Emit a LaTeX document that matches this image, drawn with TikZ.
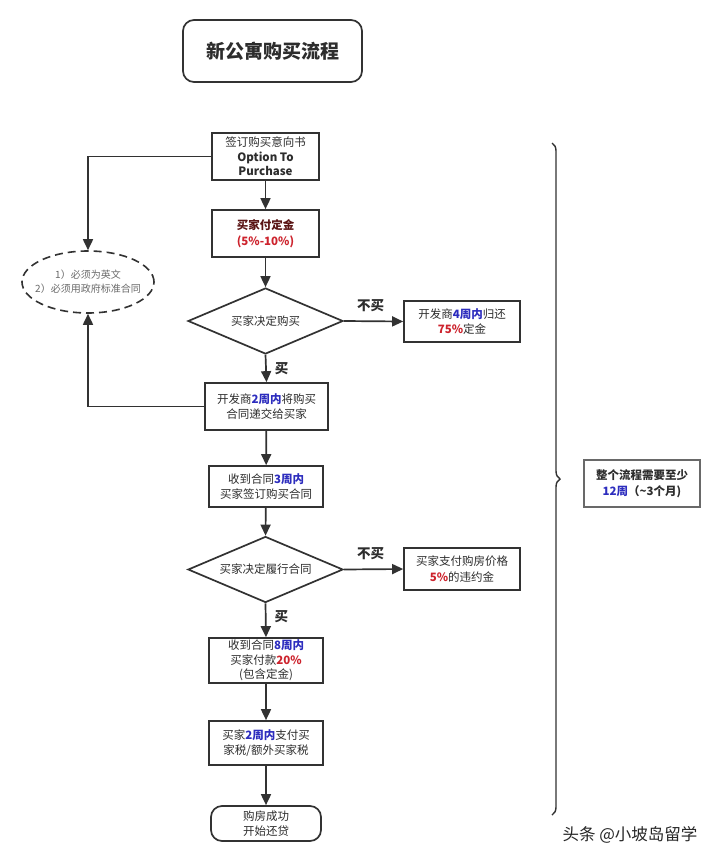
\documentclass[tikz,border=0pt]{standalone}
\usepackage{fontspec}
\setmainfont{Noto Sans CJK SC}
\usetikzlibrary{arrows.meta,shapes.geometric,decorations.pathreplacing}
\definecolor{ln}{RGB}{50,50,50}
\definecolor{tx}{RGB}{45,45,45}
\definecolor{bl}{RGB}{45,45,190}
\definecolor{rd}{RGB}{205,35,45}
\definecolor{gy}{RGB}{105,105,105}
\definecolor{dr}{RGB}{90,20,20}
\tikzset{
  box/.style={draw=ln,line width=1.7pt,rectangle,inner sep=0pt,align=center,text=tx,font=\fontsize{11.5}{15.5}\selectfont},
  dia/.style={draw=ln,line width=1.7pt,diamond,aspect=2.35,inner sep=0pt,minimum width=155pt,minimum height=66pt,align=center,text=tx,font=\fontsize{11.5}{15.5}\selectfont},
  conn/.style={draw=ln,line width=1.7pt,-{Triangle[length=11pt,width=10pt]}},
  lab/.style={text=tx,font=\fontsize{13.5}{15}\selectfont\bfseries,inner sep=0pt}
}
\newcommand{\bb}[1]{\textbf{\textcolor{bl}{#1}}}
\newcommand{\rr}[1]{\textbf{\textcolor{rd}{#1}}}
\begin{document}
\begin{tikzpicture}[x=1pt,y=-1pt]
\useasboundingbox[fill=white] (0,0) rectangle (720,861);
% title
\node[draw=ln,line width=1.7pt,rounded corners=11pt,minimum width=179pt,minimum height=62pt,inner sep=0pt,text=tx,font=\fontsize{19}{21}\selectfont\bfseries] (title) at (272.5,51) {新公寓购买流程};
% boxes
\node[box,minimum width=107pt,minimum height=47pt,font=\fontsize{11.5}{14.5}\selectfont] (b1) at (265.5,156.5) {签订购买意向书\\\textbf{Option To}\\\textbf{Purchase}};
\node[box,minimum width=107pt,minimum height=47pt] (b2) at (265.5,233.5) {\textbf{\textcolor{dr}{买家付定金}}\\\rr{(5\%-10\%)}};
\node[dia] (d1) at (265.5,321) {买家决定购买};
\node[box,minimum width=116pt,minimum height=41pt] (b3) at (462,321.5) {开发商\bb{4周内}归还\\\rr{75\%}定金};
\node[box,minimum width=123pt,minimum height=47pt] (b4) at (266.5,406.5) {开发商\bb{2周内}将购买\\合同递交给买家};
\node[draw=ln,line width=1.6pt,dashed,dash pattern=on 8pt off 5pt,ellipse,minimum width=132pt,minimum height=62pt,inner xsep=-20pt,inner ysep=-8pt,align=center,text=gy,font=\fontsize{10}{14}\selectfont] (ell) at (88,282) {1）必须为英文\\2）必须用政府标准合同};
\node[box,minimum width=114pt,minimum height=41pt] (b5) at (266,486.5) {收到合同\bb{3周内}\\买家签订购买合同};
\node[dia] (d2) at (265.5,569.5) {买家决定履行合同};
\node[box,minimum width=116pt,minimum height=42pt] (b6) at (462,569) {买家支付购房价格\\\rr{5\%}的违约金};
\node[box,minimum width=114pt,minimum height=45pt,font=\fontsize{11.5}{14.5}\selectfont] (b7) at (266,660.5) {收到合同\bb{8周内}\\买家付款\rr{20\%}\\(包含定金)};
\node[box,minimum width=114pt,minimum height=44pt] (b8) at (266,743) {买家\bb{2周内}支付买\\家税/额外买家税};
\node[box,rounded corners=11pt,minimum width=110pt,minimum height=35pt] (b9) at (266,823.5) {购房成功\\开始还贷};
\node[draw=gy,line width=1.3pt,rectangle,inner sep=0pt,minimum width=116pt,minimum height=47pt,align=center,text=tx,font=\fontsize{11.5}{15.5}\selectfont\bfseries] (b10) at (642,483.5) {整个流程需要至少\\\textcolor{bl}{12周}（\textasciitilde3个月)};
% connectors
\draw[conn] (b1) -- (b2);
\draw[conn] (b2) -- (d1);
\draw[conn] (d1.east) -- node[lab,above=9pt,pos=0.45] (l1) {不买} (b3.west);
\draw[conn] (d1.south) -- node[lab,right=8pt,pos=0.5] (l2) {买} (b4.north);
\draw[conn] (b4) -- (b5);
\draw[conn] (b5) -- (d2.north);
\draw[conn] (d2.east) -- node[lab,above=9pt,pos=0.45] (l3) {不买} (b6.west);
\draw[conn] (d2.south) -- node[lab,right=8pt,pos=0.4] (l4) {买} (b7.north);
\draw[conn] (b7) -- (b8);
\draw[conn] (b8) -- (b9);
\draw[conn] (b1.west) -| (ell.north);
\draw[conn] (b4.west) -| (ell.south);
% brace
\coordinate (bt) at (552,143);
\coordinate (bb) at (552,815);
\draw[draw=ln,line width=1.4pt,decorate,decoration={brace,amplitude=8pt}] (bt) -- (bb);
% watermark
\node[text=black!85,font=\fontsize{16.5}{18}\selectfont,inner sep=0pt] (wm) at (630,835) {头条 @小坡岛留学};
\end{tikzpicture}
\end{document}
